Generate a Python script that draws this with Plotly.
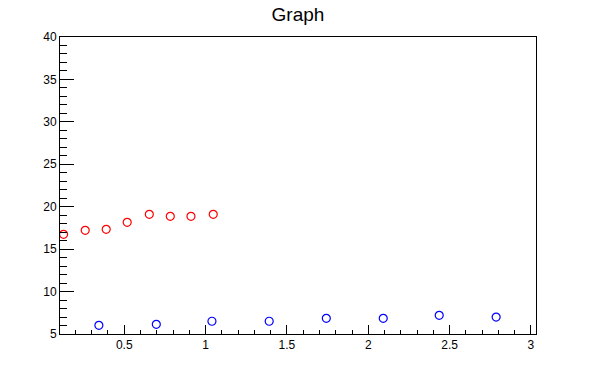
import plotly.graph_objects as go

red_x = [0.127, 0.260, 0.389, 0.518, 0.654, 0.783, 0.910, 1.047]
red_y = [16.75, 17.22, 17.34, 18.16, 19.10, 18.87, 18.87, 19.10]
blue_x = [0.344, 0.697, 1.039, 1.391, 1.742, 2.092, 2.436, 2.786]
blue_y = [6.02, 6.14, 6.50, 6.50, 6.85, 6.85, 7.20, 7.00]

title_text = "Graph"
x_range = [0.105, 3.031]
y_range = [5, 40]

fig = go.Figure()
fig.add_trace(go.Scatter(x=red_x, y=red_y, mode="markers",
                         marker=dict(symbol="circle-open", size=8, color="red",
                                     line=dict(width=1.2, color="red")),
                         showlegend=False))
fig.add_trace(go.Scatter(x=blue_x, y=blue_y, mode="markers",
                         marker=dict(symbol="circle-open", size=8, color="blue",
                                     line=dict(width=1.2, color="blue")),
                         showlegend=False))

font = "Liberation Sans, Arial, sans-serif"
fig.update_layout(
    width=596, height=372,
    margin=dict(l=60, r=60, t=37, b=38),
    paper_bgcolor="white", plot_bgcolor="white",
    title=dict(text=title_text, x=0.5, xanchor="center", y=1 - 14 / 372, yanchor="middle",
               font=dict(family=font, size=19, color="black")),
    font=dict(family=font, size=12, color="black"),
)
fig.update_xaxes(range=x_range, showgrid=False, zeroline=False,
                 showline=True, linecolor="black", linewidth=1, mirror=True,
                 ticks="inside", ticklen=9, tickwidth=1, tickcolor="black",
                 tick0=0, dtick=0.5, tickformat="~g",
                 minor=dict(ticks="inside", ticklen=4, dtick=0.1, tick0=0,
                            tickcolor="black", showgrid=False),
                 tickfont=dict(size=12))
fig.update_yaxes(range=y_range, showgrid=False, zeroline=False,
                 showline=True, linecolor="black", linewidth=1, mirror=True,
                 ticks="inside", ticklen=14, tickwidth=1, tickcolor="black",
                 tick0=0, dtick=5,
                 minor=dict(ticks="inside", ticklen=7, dtick=1, tick0=0,
                            tickcolor="black", showgrid=False),
                 tickfont=dict(size=12))

fig.write_html("out.html", config={"displayModeBar": False},
               post_script="document.body.style.margin='0';")
